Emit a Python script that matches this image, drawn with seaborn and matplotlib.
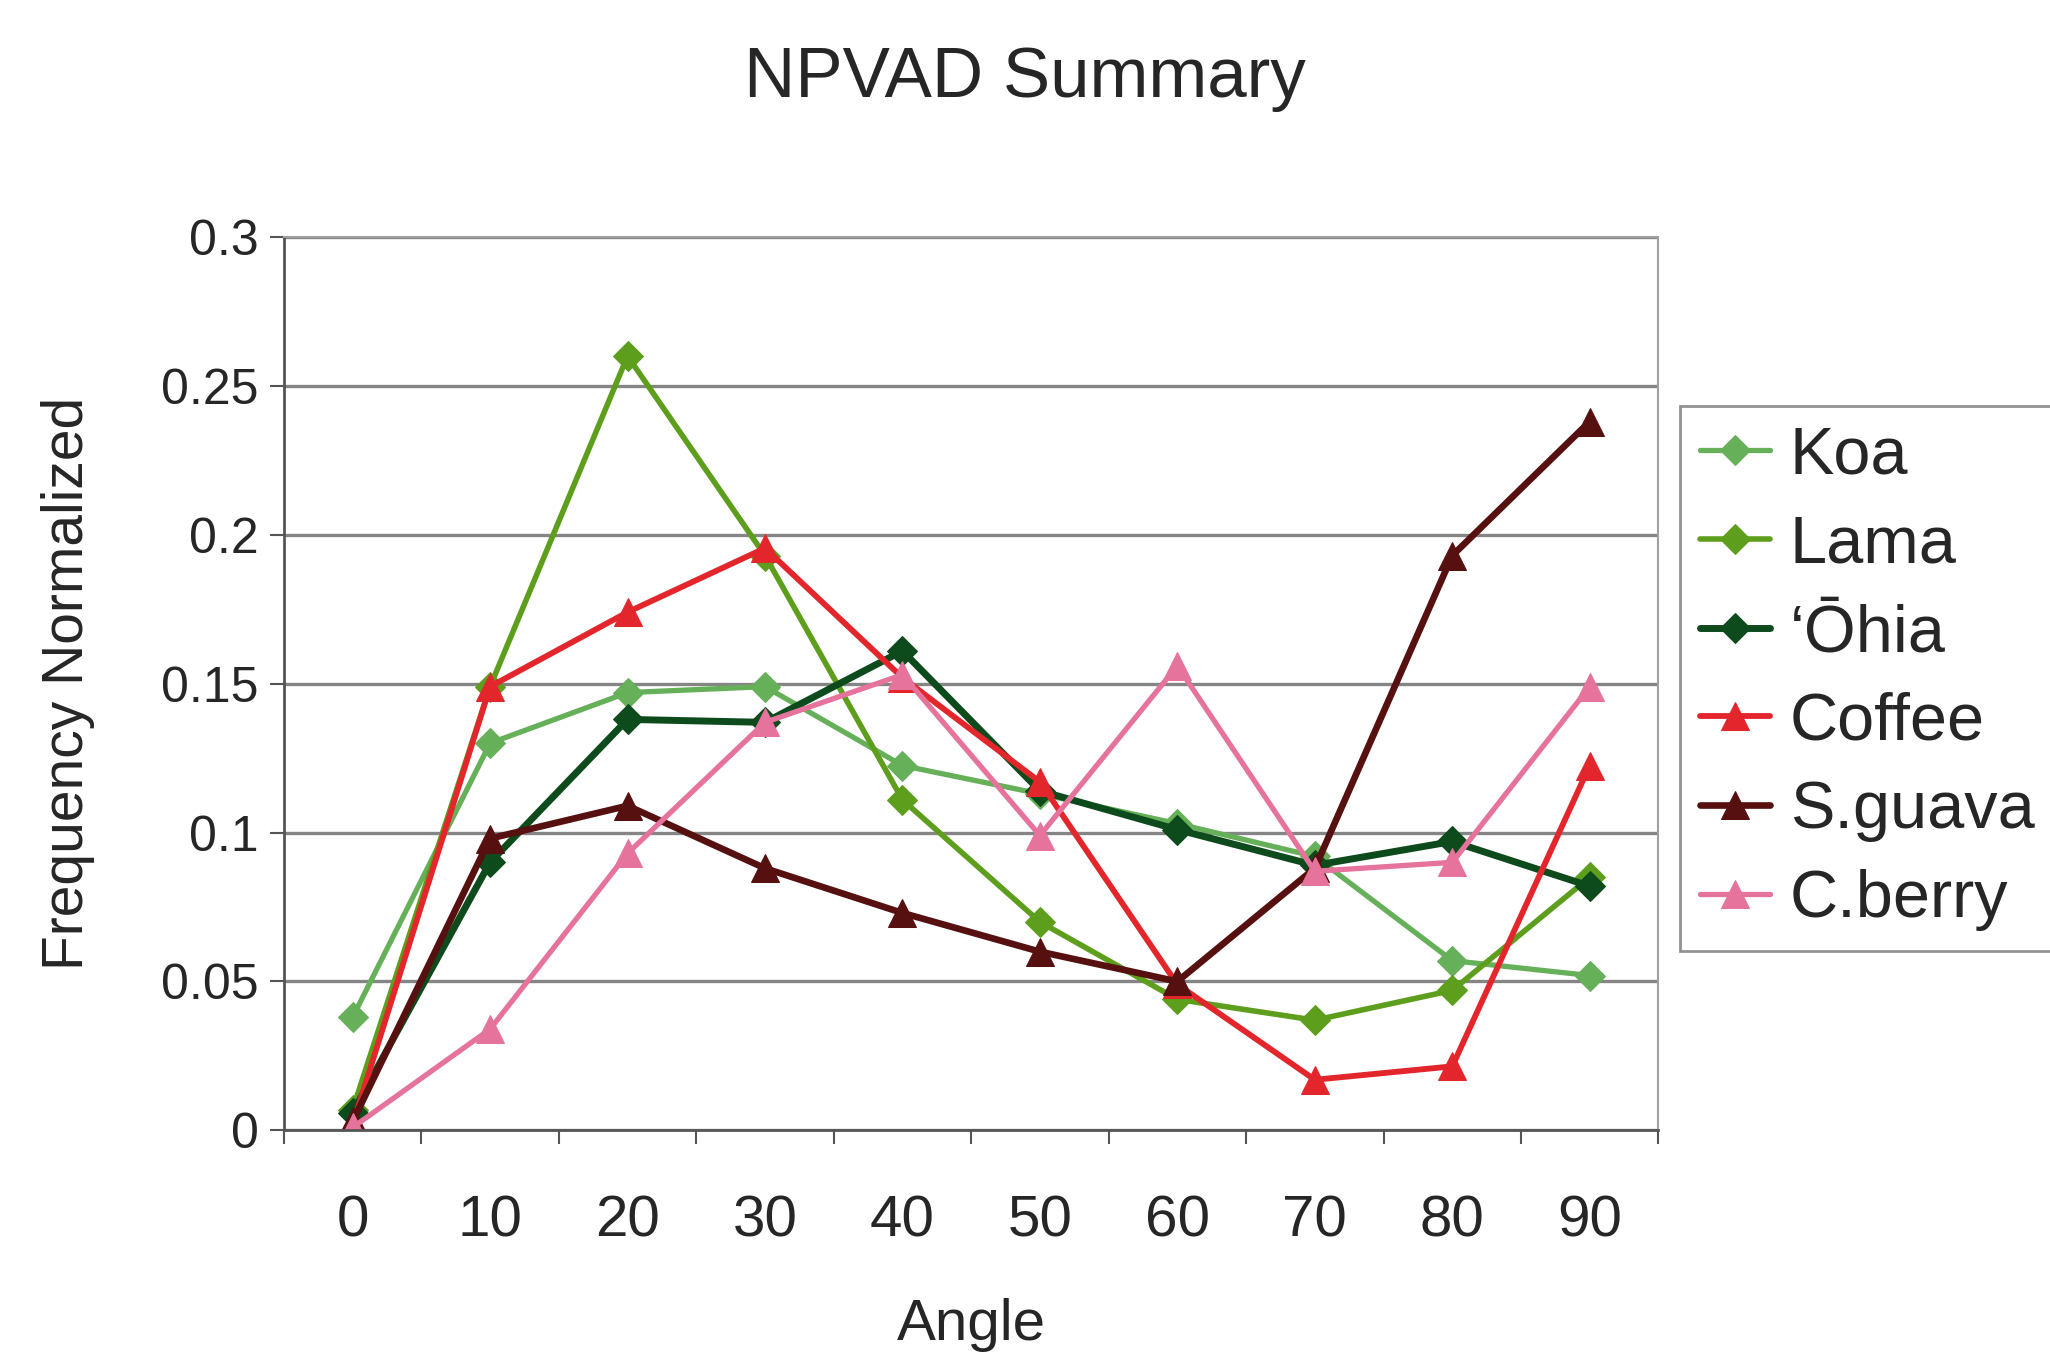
import numpy as np
import pandas as pd
import matplotlib
matplotlib.use("Agg")
import matplotlib.pyplot as plt
import seaborn as sns

angles = ["0", "10", "20", "30", "40", "50", "60", "70", "80", "90"]
koa = [0.038, 0.130, 0.147, 0.149, 0.1225, 0.113, 0.103, 0.092, 0.057, 0.052]
lama = [0.007, 0.149, 0.260, 0.193, 0.111, 0.070, 0.044, 0.037, 0.047, 0.085]
ohia = [0.006, 0.090, 0.138, 0.137, 0.161, 0.114, 0.101, 0.089, 0.097, 0.082]
coffee = [0.002, 0.149, 0.174, 0.1955, 0.152, 0.117, 0.049, 0.017, 0.0215, 0.1225]
sguava = [0.003, 0.098, 0.109, 0.088, 0.073, 0.060, 0.050, 0.088, 0.193, 0.238]
cberry = [0.001, 0.034, 0.093, 0.137, 0.153, 0.099, 0.156, 0.087, 0.090, 0.149]

series_names = ["Koa", "Lama", "\u2018\u014chia", "Coffee", "S.guava", "C.berry"]
series_vals = [koa, lama, ohia, coffee, sguava, cberry]
colors = ["#66b05a", "#5d9e1c", "#0d4a1c", "#e3262c", "#561010", "#e5739b"]
markers = ["D", "D", "D", "^", "^", "^"]
lws = [3.8, 4.0, 5.0, 4.2, 4.8, 3.8]

sns.set_style("white")
plt.rcParams['font.family'] = ['Liberation Sans', 'DejaVu Sans']

fig = plt.figure(figsize=(20.5, 13.57), dpi=100)
ax = fig.add_axes([0.1385, 0.167, 0.6705, 0.6584])

xpos = np.arange(len(angles))
for name, vals, c, m, lw in zip(series_names, series_vals, colors, markers, lws):
    df = pd.DataFrame({"x": xpos, "y": vals})
    ms = 15 if m == "D" else 20
    sns.lineplot(data=df, x="x", y="y", ax=ax, color=c, marker=m,
                 markersize=ms, linewidth=lw, markeredgecolor=c,
                 label=name, legend=False)

ax.set_xlim(-0.5, len(angles) - 0.5)
ax.set_ylim(0, 0.3)
yt = [0, 0.05, 0.1, 0.15, 0.2, 0.25, 0.3]
ax.set_yticks(yt)
ax.set_yticklabels(["0", "0.05", "0.1", "0.15", "0.2", "0.25", "0.3"], fontsize=36)
ax.yaxis.grid(True, color="#858585", linewidth=2.4)
ax.set_axisbelow(True)

ax.set_xticks(np.arange(-0.5, len(angles), 1))
ax.set_xticklabels([""] * (len(angles) + 1))
ax.set_xticks(xpos, minor=True)
ax.set_xticklabels(angles, minor=True, fontsize=42)
ax.tick_params(axis="x", which="major", direction="out", length=10, width=1.5,
               color="#555555", bottom=True)
ax.tick_params(axis="x", which="minor", length=0, pad=46)
ax.tick_params(axis="y", which="major", direction="out", length=10, width=1.5,
               color="#555555", left=True, pad=8)

for s in ["top", "right"]:
    ax.spines[s].set_color("#a0a0a0")
    ax.spines[s].set_linewidth(1.5)
for s in ["left", "bottom"]:
    ax.spines[s].set_color("#555555")
    ax.spines[s].set_linewidth(2)

ax.set_xlabel("Angle", fontsize=42, labelpad=36)
ax.set_ylabel("Frequency Normalized", fontsize=41, labelpad=48)
fig.suptitle("NPVAD Summary", fontsize=51, x=0.5, y=0.966)

handles, labels = ax.get_legend_handles_labels()
leg = fig.legend(handles, labels, loc="upper left", bbox_to_anchor=(0.8195, 0.701),
                 fontsize=48, frameon=True, fancybox=False, edgecolor="#777777",
                 handlelength=1.05, handletextpad=0.3, labelspacing=0.4,
                 borderpad=0.3, borderaxespad=0)
leg.get_frame().set_linewidth(2)

fig.savefig("out.png", dpi=100)
